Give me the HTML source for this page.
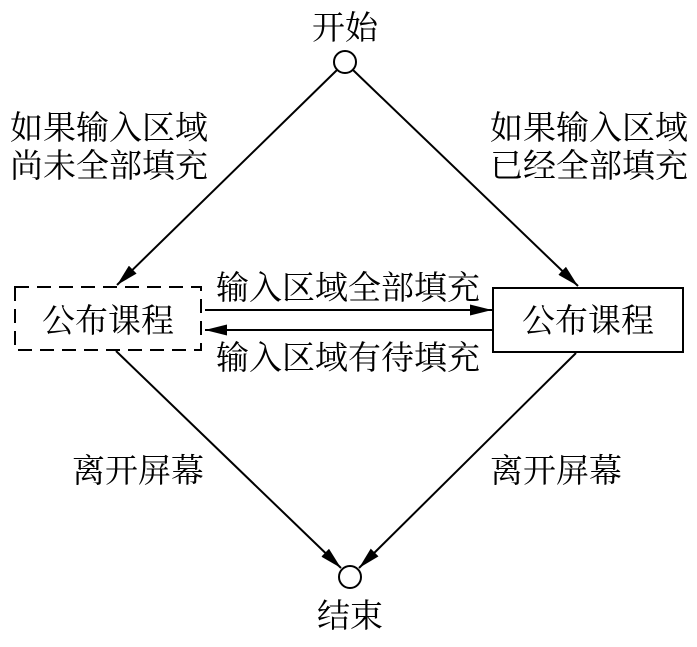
<!DOCTYPE html>
<html><head><meta charset="utf-8"><style>
html,body{margin:0;padding:0;background:#fff;}
svg{display:block;}
text{font-family:"Liberation Serif","Noto Serif CJK SC",serif;font-size:33px;fill:#000;}
</style></head><body>
<svg width="697" height="647" viewBox="0 0 697 647" xmlns="http://www.w3.org/2000/svg">
<defs>
<marker id="a" viewBox="0 0 22 11" refX="22" refY="5.5" markerWidth="22" markerHeight="11" markerUnits="userSpaceOnUse" orient="auto">
<path d="M0,0 L22,5.5 L0,11 Z" fill="#000"/>
</marker>
</defs>
<g stroke="#000" stroke-width="2" fill="none">
<circle cx="345" cy="62" r="11" fill="#fff"/>
<circle cx="350" cy="577" r="11" fill="#fff"/>
<rect x="15" y="287" width="186" height="63" stroke-dasharray="14,8"/>
<rect x="493" y="288" width="190" height="64"/>
<line x1="337" y1="70" x2="117" y2="285" marker-end="url(#a)"/>
<line x1="353" y1="70" x2="578" y2="286" marker-end="url(#a)"/>
<line x1="116" y1="351" x2="341" y2="568" marker-end="url(#a)"/>
<line x1="576" y1="353" x2="359" y2="568" marker-end="url(#a)"/>
<line x1="205" y1="310" x2="492" y2="310" marker-end="url(#a)"/>
<line x1="492" y1="330" x2="205" y2="330" marker-end="url(#a)"/>
</g>
<text x="345" y="39" text-anchor="middle">开始</text>
<text x="350" y="627" text-anchor="middle">结束</text>
<text x="10" y="139">如果输入区域</text>
<text x="10" y="177">尚未全部填充</text>
<text x="490" y="139">如果输入区域</text>
<text x="490" y="177">已经全部填充</text>
<text x="108" y="332" text-anchor="middle">公布课程</text>
<text x="588" y="332" text-anchor="middle">公布课程</text>
<text x="348" y="299" text-anchor="middle">输入区域全部填充</text>
<text x="348" y="369" text-anchor="middle">输入区域有待填充</text>
<text x="72" y="482">离开屏幕</text>
<text x="490" y="482">离开屏幕</text>
</svg>
</body></html>
